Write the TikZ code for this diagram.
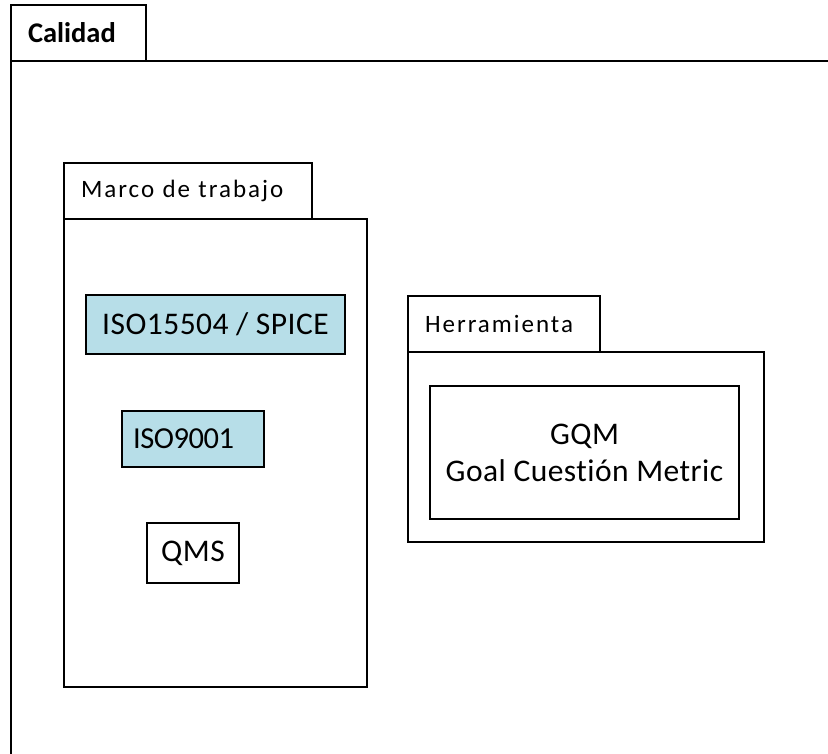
\documentclass[tikz,border=0pt]{standalone}
\usepackage{fontspec}
\setmainfont{Carlito}[Ligatures={NoCommon}]
\definecolor{boxblue}{HTML}{B7DEE8}
\begin{document}
\begin{tikzpicture}[x=1pt,y=-1pt,line width=1.6pt,
  frame/.style={draw=black, anchor=north west, inner sep=0pt, outer sep=0pt},
  tabbox/.style={frame, align=left, inner xsep=17pt,
    font=\fontsize{25}{29}\selectfont\addfontfeature{LetterSpace=8}},
  itembox/.style={frame, align=center,
    font=\fontsize{31.5}{37}\selectfont\addfontfeature{LetterSpace=1.5}},
  bluebox/.style={itembox, fill=boxblue}]
\useasboundingbox (0,0) rectangle (828,754);
\clip (0,0) rectangle (828,754);
\fill[white] (0,0) rectangle (828,754);
% Calidad package
\node[frame, minimum width=900pt, minimum height=800pt] (calBody) at (11,61) {};
\node[frame, fill=white, align=left, inner xsep=17pt, text width=101pt, minimum height=56pt,
  font=\fontsize{28.5}{33}\selectfont\bfseries] (calTab) at (11,5) {Calidad};
% Marco de trabajo package
\node[frame, minimum width=303pt, minimum height=468pt] (marcoBody) at (64,219) {};
\node[tabbox, text width=214pt, minimum height=56pt] (marcoTab) at (64,163) {Marco de trabajo};
\node[bluebox, minimum width=259pt, minimum height=59pt] (spice) at (86,295) {ISO15504 / SPICE};
\node[bluebox, align=left, inner xsep=11pt, text width=120pt, minimum height=56pt,
  font=\fontsize{30.5}{37}\selectfont\addfontfeature{LetterSpace=-1.5}] (iso) at (122,411) {ISO9001};
\node[itembox, minimum width=92pt, minimum height=60pt] (qms) at (147,523) {QMS};
% Herramienta package
\node[frame, minimum width=356pt, minimum height=190pt] (herrBody) at (408,352) {};
\node[tabbox, text width=158pt, minimum height=56pt] (herrTab) at (408,296) {Herramienta};
\node[itembox, minimum width=309pt, minimum height=133pt] (gqm) at (430,386) {GQM\\Goal Cuestión Metric};
\end{tikzpicture}
\end{document}
